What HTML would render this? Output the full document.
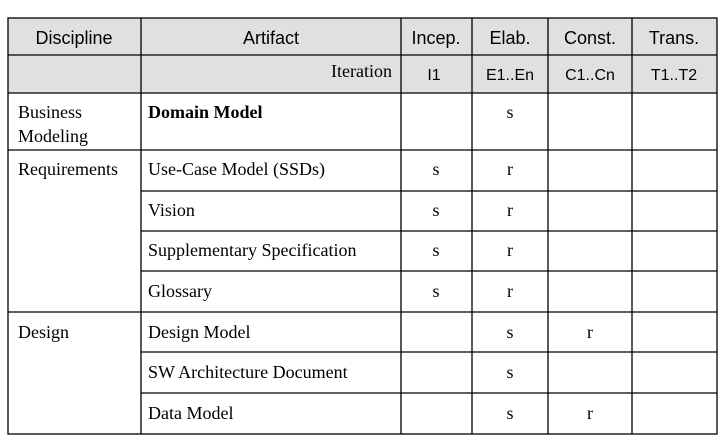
<!DOCTYPE html>
<html><head><style>body{margin:0;background:#fff}svg{display:block}</style></head><body>
<svg width="725" height="444" xmlns="http://www.w3.org/2000/svg">
<rect x="8" y="18" width="709" height="75" fill="#e0e0e0"/>
<g stroke="#000" stroke-width="1.3" fill="none">
<rect x="8" y="18" width="709" height="416"/>
<line x1="8" y1="55" x2="717" y2="55"/>
<line x1="8" y1="93" x2="717" y2="93"/>
<line x1="8" y1="150" x2="717" y2="150"/>
<line x1="141" y1="191" x2="717" y2="191"/>
<line x1="141" y1="231" x2="717" y2="231"/>
<line x1="141" y1="271" x2="717" y2="271"/>
<line x1="8" y1="312" x2="717" y2="312"/>
<line x1="141" y1="352" x2="717" y2="352"/>
<line x1="141" y1="393" x2="717" y2="393"/>
<line x1="141" y1="18" x2="141" y2="434"/>
<line x1="401" y1="18" x2="401" y2="434"/>
<line x1="472" y1="18" x2="472" y2="434"/>
<line x1="548" y1="18" x2="548" y2="434"/>
<line x1="632" y1="18" x2="632" y2="434"/>
</g>
<g font-family="Liberation Sans, sans-serif" font-size="18" text-anchor="middle" fill="#000">
<text x="74" y="44">Discipline</text>
<text x="271" y="44">Artifact</text>
<text x="436" y="44">Incep.</text>
<text x="510" y="44">Elab.</text>
<text x="590" y="44">Const.</text>
<text x="674" y="44">Trans.</text>
<text x="434" y="80" font-size="16">I1</text><text x="510" y="80" font-size="16">E1..En</text><text x="590" y="80" font-size="16">C1..Cn</text><text x="674" y="80" font-size="16">T1..T2</text>
</g>
<g font-family="Liberation Serif, serif" font-size="18" fill="#000">
<text x="392" y="77" text-anchor="end">Iteration</text>
<text x="18" y="118">Business</text><text x="18" y="142">Modeling</text>
<text x="18" y="175">Requirements</text>
<text x="18" y="338">Design</text>
<text x="148" y="118" font-weight="bold">Domain Model</text>
<text x="148" y="175">Use-Case Model (SSDs)</text>
<text x="148" y="216">Vision</text>
<text x="148" y="256">Supplementary Specification</text>
<text x="148" y="297">Glossary</text>
<text x="148" y="338">Design Model</text>
<text x="148" y="378">SW Architecture  Document</text>
<text x="148" y="419">Data Model</text>
<g text-anchor="middle">
<text x="510" y="118">s</text>
<text x="436" y="175">s</text><text x="510" y="175">r</text>
<text x="436" y="216">s</text><text x="510" y="216">r</text>
<text x="436" y="256">s</text><text x="510" y="256">r</text>
<text x="436" y="297">s</text><text x="510" y="297">r</text>
<text x="510" y="338">s</text><text x="590" y="338">r</text>
<text x="510" y="378">s</text>
<text x="510" y="419">s</text><text x="590" y="419">r</text>
</g>
</g>
</svg>
</body></html>
